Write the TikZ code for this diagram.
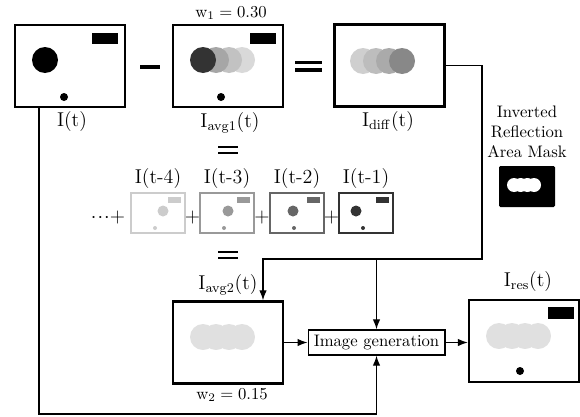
\documentclass[tikz,border=0pt]{standalone}
\usetikzlibrary{arrows.meta,calc}
\definecolor{ga}{HTML}{333333}
\definecolor{gb}{HTML}{A6A6A6}
\definecolor{gc}{HTML}{C2C2C2}
\definecolor{gd}{HTML}{D9D9D9}
\definecolor{da}{HTML}{CFCFCF}
\definecolor{db}{HTML}{BDBDBD}
\definecolor{dc}{HTML}{AAAAAA}
\definecolor{dd}{HTML}{888888}
\definecolor{ge}{HTML}{E0E0E0}
\definecolor{f4}{HTML}{CCCCCC}
\definecolor{f3}{HTML}{999999}
\definecolor{f2}{HTML}{666666}
\definecolor{f1}{HTML}{333333}
\begin{document}
\begin{tikzpicture}[x=0.6pt,y=-0.6pt,
  imgbox/.style={draw,line width=1.4pt,minimum width=66pt,minimum height=49.2pt,inner sep=0pt},
  smallbox/.style={draw,line width=1.2pt,minimum width=32.4pt,minimum height=24pt,inner sep=0pt},
  conn/.style={line width=0.75pt},
  arr/.style={-{Latex[length=6pt,width=4.5pt]}},
  lbl/.style={font=\large,inner sep=0pt},
  wlbl/.style={inner sep=0pt},
  genbox/.style={draw,line width=0.8pt,minimum width=82pt,minimum height=15pt,inner sep=1pt},
]
\useasboundingbox (0,0) rectangle (580,416);

% main image boxes
\node[imgbox] (I) at (70,66) {};
\node[imgbox] (avg1) at (228,66) {};
\node[imgbox] (diff) at (389.5,65.5) {};
\node[imgbox] (avg2) at (228,342.5) {};
\node[imgbox] (res) at (524,341) {};

% I(t) content
\fill (92,33) rectangle (118,44);
\fill (45,60) circle[radius=13];
\fill (64,97) circle[radius=4];

% I_avg1 content
\fill (250,33) rectangle (276,44);
\fill[gd] (242,60) circle[radius=13];
\fill[gc] (229,60) circle[radius=13];
\fill[gb] (216,60) circle[radius=13];
\fill[ga] (203,60) circle[radius=13];
\fill (221,97) circle[radius=4];

% I_diff content
\fill[da] (363,61) circle[radius=13];
\fill[db] (376,61) circle[radius=13];
\fill[dc] (389,61) circle[radius=13];
\fill[dd] (402,61) circle[radius=13];

% I_avg2 content
\foreach \cx in {203,216,229,242} \fill[ge] (\cx,337) circle[radius=13];

% I_res content
\foreach \cx in {499,512,525,538} \fill[ge] (\cx,336) circle[radius=13];
\fill (548,307) rectangle (574,319);
\fill (520,371) circle[radius=4];

% operators
\fill (140,65) rectangle (160,69);
\fill (295,60.5) rectangle (322,64);
\fill (295,68) rectangle (322,71.5);
\fill (218,145.5) rectangle (238,148);
\fill (218,151.5) rectangle (238,154);
\fill (218,250.5) rectangle (238,253);
\fill (218,256.5) rectangle (238,259);

% labels
\node[lbl] (lI) at (72,122) {I(t)};
\node[lbl] (lavg1) at (230,123) {I$_\mathrm{avg1}$(t)};
\node[lbl] (ldiff) at (388,122) {I$_\mathrm{diff}$(t)};
\node[wlbl] (w1) at (231,13) {$\mathrm{w}_1 = 0.30$};
\node[lbl] (lavg2) at (228,285) {I$_\mathrm{avg2}$(t)};
\node[wlbl] (w2) at (232,395) {$\mathrm{w}_2 = 0.15$};
\node[lbl] (lres) at (528,282) {I$_\mathrm{res}$(t)};

% past frames
\foreach \n/\x/\c/\col in {4/131/32/f4,3/200/28/f3,2/270/23/f2,1/339/17/f1}{
  \node[smallbox,draw=\col] (fr\n) at (\x+27,213) {};
  \fill[\col] (\x+37,197) rectangle (\x+50,203);
  \fill[\col] (\x+\c,211) circle[radius=5.5];
  \fill[\col] (\x+24,228) circle[radius=2];
  \node[lbl] (lfr\n) at (\x+27,179) {I(t-\n)};
}
\node[lbl] (dots) at (108,217) {$\cdot\!\cdot\!\cdot+$};
\node[lbl] (p1) at (192.5,217) {$+$};
\node[lbl] (p2) at (262,217) {$+$};
\node[lbl] (p3) at (331.5,217) {$+$};

% mask
\node[align=center,inner sep=0pt] (masklbl) at (527,132) {Inverted\\Reflection\\Area Mask};
\fill[rounded corners=0.8pt] (499,166) rectangle (555,207);
\foreach \cx in {514,520.7,527.3,534} \fill[white] (\cx,185) circle[radius=7];

% image generation
\node[genbox] (gen) at (376.5,342.5) {Image generation};

% connectors
\coordinate (c2) at (482,259);
\coordinate (a2in) at (avg2.north -| 263,0);
\coordinate (c3) at (gen.south |- 0,414);
\coordinate (istart) at (I.south -| 39,0);
\draw[conn,arr] (diff.east) -| (c2) -| (a2in);
\draw[conn,arr] (gen.north |- c2) -- (gen.north);
\draw[conn,arr] (istart) |- (c3) -- (gen.south);
\draw[conn,arr] (avg2.east |- gen.west) -- (gen.west);
\draw[conn,arr] (gen.east) -- (res.west |- gen.east);
\end{tikzpicture}
\end{document}
